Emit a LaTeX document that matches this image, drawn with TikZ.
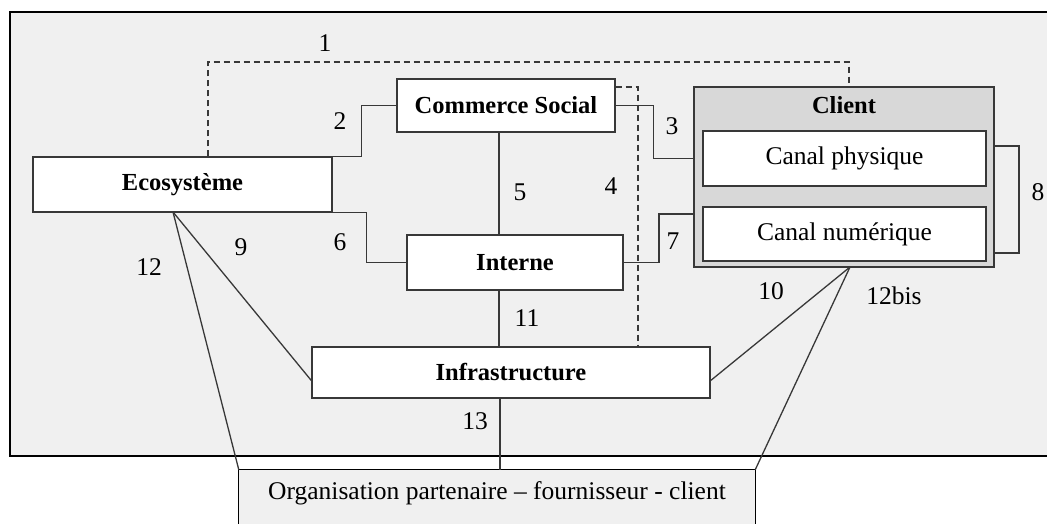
\documentclass[tikz,border=0pt]{standalone}
\usepackage{fontspec}
\setmainfont{Liberation Serif}
\usetikzlibrary{calc}
\definecolor{bggray}{HTML}{F0F0F0}
\definecolor{clientgray}{HTML}{D8D8D8}
\definecolor{linegray}{HTML}{383838}
\begin{document}
\begin{tikzpicture}[x=1pt,y=-1pt,
  font=\fontsize{25.5}{29}\selectfont,
  conn/.style={draw=linegray,line width=1.3pt},
  dconn/.style={conn,dashed,dash pattern=on 6pt off 4pt},
  whitebox/.style={draw=linegray,line width=1.4pt,fill=white,inner sep=0pt,rectangle},
  bold/.style={font=\fontsize{24.5}{28}\selectfont\bfseries},
  numlabel/.style={inner sep=0pt,anchor=center}]
\useasboundingbox (0,0) rectangle (1047,524);
% background panel
\fill[bggray] (10,12) rectangle (1060,456);
\draw[black,line width=1.4pt] (1060,12) -- (10,12) -- (10,456) -- (1060,456);
% nodes
\node[whitebox,minimum width=299pt,minimum height=55pt,bold] (eco) at (182.5,184.5) {Ecosystème};
\node[whitebox,minimum width=218pt,minimum height=53pt,bold] (cs) at (506,105.5) {Commerce Social};
\node[whitebox,minimum width=216pt,minimum height=55pt,bold] (int) at (515,262.5) {Interne};
\node[whitebox,minimum width=398pt,minimum height=51pt,bold] (infra) at (511,372.5) {Infrastructure};
\node[draw=linegray,line width=2pt,fill=clientgray,inner sep=0pt,minimum width=300pt,minimum height=180pt] (client) at (844,177) {};
\node[bold,inner sep=0pt] (clientlbl) at (844,105) {Client};
\node[whitebox,minimum width=283pt,minimum height=55pt] (cp) at (844.5,158.5) {Canal physique};
\node[whitebox,minimum width=283pt,minimum height=54pt] (cn) at (844.5,234) {Canal numérique};
\node[fill=bggray,inner sep=0pt,minimum width=516pt,minimum height=46pt] (org) at (497,493) {Organisation partenaire – fournisseur - client};
\fill[bggray] (org.south west) rectangle ($(org.south east)+(0,20)$);
\draw[black,line width=1.2pt] ($(org.south west)+(0,20)$) -- (org.north west) -- (org.north east) -- ($(org.south east)+(0,20)$);
% helper coordinates
\coordinate (d1a) at (208,62);
\coordinate (d1b) at (849,62);
\coordinate (c4) at (638,87);
\coordinate (c5) at (499,0);
\coordinate (c7) at (659,214);
\coordinate (c8a) at (994,146);
\coordinate (c8b) at (994,253);
\coordinate (c11) at (499,0);
\coordinate (c13) at (500,0);
\coordinate (ecoS) at (173,212);
\coordinate (cliS) at (850,267);
% connectors
\draw[dconn] (eco.north -| d1a) -- (d1a) -- (d1b) -- (client.north -| d1b);
\draw[conn] (eco.north east) -- ++(29,0) |- (cs.west);
\draw[conn] (cs.east) -- ++(38,0) |- (client.west |- cp.center);
\draw[dconn] (cs.east |- c4) -- (c4) -- (infra.north -| c4);
\draw[conn] (cs.south -| c5) -- (int.north -| c5);
\draw[conn] (eco.south east) -- ++(34,0) |- (int.west);
\draw[conn] (int.east) -- (int.east -| c7) -- (c7) -- (client.west |- c7);
\draw[conn] (c8a) -- ++(25,0) |- (c8b);
\draw[conn] (ecoS) -- ($(infra.west)+(0,8)$);
\draw[conn] (ecoS) -- (org.north west);
\draw[conn] (cliS) -- ($(infra.east)+(0,8)$);
\draw[conn] (cliS) -- (org.north east);
\draw[conn] (int.south -| c11) -- (infra.north -| c11);
\draw[conn] (infra.south -| c13) -- (org.north -| c13);
% labels
\node[numlabel] (l1) at (325,43) {1};
\node[numlabel] (l2) at (340,121) {2};
\node[numlabel] (l3) at (672,126) {3};
\node[numlabel] (l4) at (611,186) {4};
\node[numlabel] (l5) at (520,192) {5};
\node[numlabel] (l6) at (340,242) {6};
\node[numlabel] (l7) at (673,241) {7};
\node[numlabel] (l8) at (1038,192) {8};
\node[numlabel] (l9) at (241,247) {9};
\node[numlabel] (l10) at (771,291) {10};
\node[numlabel] (l11) at (527,318) {11};
\node[numlabel] (l12) at (149,267) {12};
\node[numlabel] (l12b) at (894,296) {12bis};
\node[numlabel] (l13) at (475,421) {13};
\end{tikzpicture}
\end{document}
